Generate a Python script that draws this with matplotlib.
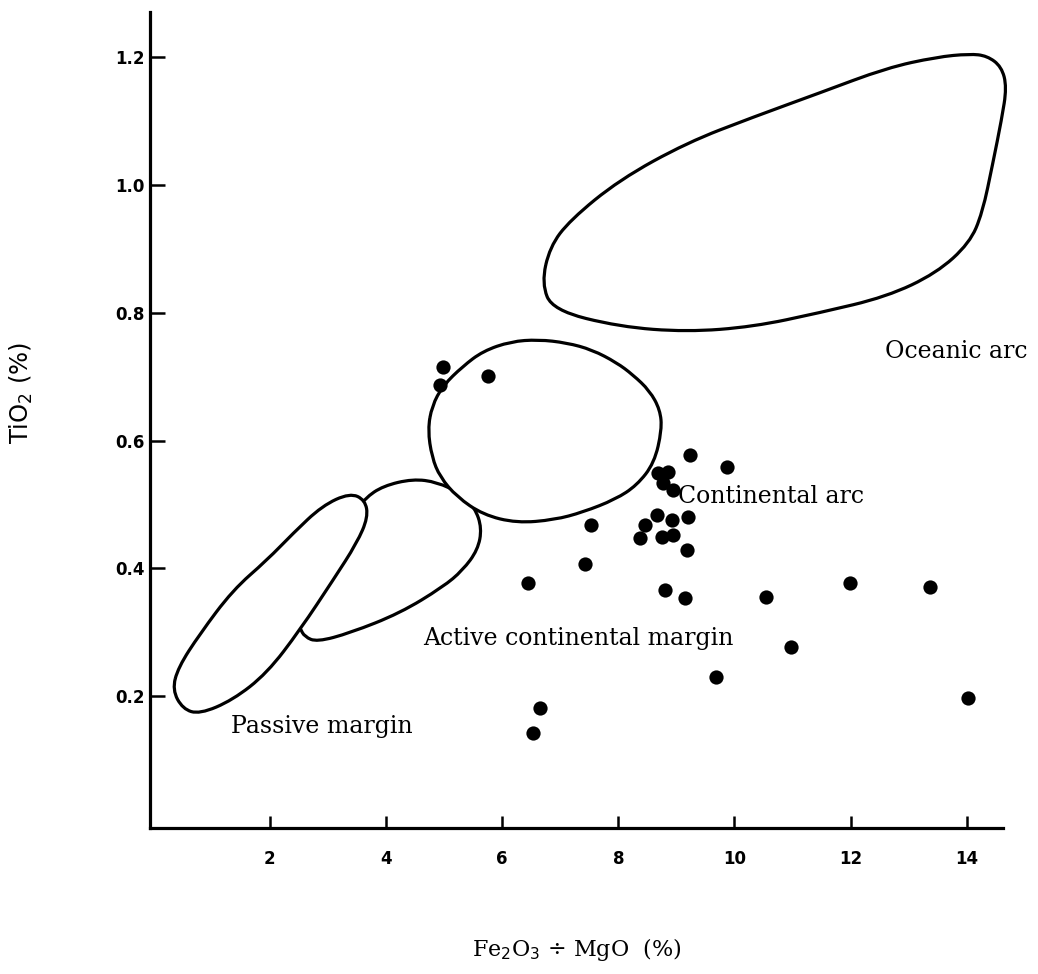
"""TiO2 vs Fe2O3 + MgO tectonic setting diagram with sample points."""
import matplotlib
matplotlib.use('Agg')
import matplotlib.pyplot as plt
import numpy as np
from matplotlib.path import Path
from matplotlib.patches import PathPatch

# samples: Fe2O3+MgO (%) and TiO2 (%)
sample_x = [4.98, 4.93, 5.75,
            9.23, 9.87, 8.68, 8.85, 8.77, 8.94, 9.20, 8.66, 8.92, 8.46,
            8.37, 8.75, 8.94, 9.18,
            7.53, 7.43, 6.44, 8.80, 9.15, 10.54, 11.99, 13.36, 10.97,
            9.68, 14.02, 6.65, 6.53]
sample_y = [0.715, 0.687, 0.701,
            0.577, 0.559, 0.549, 0.551, 0.534, 0.523, 0.480, 0.484, 0.476,
            0.468, 0.448, 0.449, 0.452, 0.429,
            0.468, 0.407, 0.377, 0.366, 0.354, 0.355, 0.377, 0.371, 0.277,
            0.230, 0.197, 0.182, 0.142]

# field boundaries (outline control points)
oceanic_x = [6.68, 6.87, 8.02, 9.18, 10.32, 11.47, 12.62, 13.48, 14.05, 14.27,
             14.45, 14.60, 14.69, 14.60, 14.35, 14.05, 13.48, 12.62, 11.47,
             10.32, 9.18, 8.02, 7.17, 6.82]
oceanic_y = [0.846, 0.804, 0.778, 0.770, 0.778, 0.800, 0.825, 0.862, 0.909,
             0.956, 1.034, 1.102, 1.153, 1.185, 1.202, 1.205, 1.200, 1.183,
             1.144, 1.106, 1.066, 1.008, 0.945, 0.903]

cont_arc_x = [4.72, 4.79, 4.93, 5.22, 5.67, 6.25, 6.90, 7.39, 7.95, 8.32,
              8.62, 8.75, 8.72, 8.54, 8.25, 7.97, 7.55, 7.11, 6.62, 6.15,
              5.67, 5.32, 4.98, 4.79]
cont_arc_y = [0.617, 0.574, 0.543, 0.512, 0.484, 0.471, 0.476, 0.488, 0.508,
              0.530, 0.565, 0.617, 0.648, 0.678, 0.703, 0.722, 0.742, 0.753,
              0.758, 0.755, 0.740, 0.716, 0.686, 0.654]

active_x = [3.45, 3.64, 3.95, 4.46, 4.88, 5.27, 5.53, 5.65, 5.58, 5.32, 4.98,
            4.24, 3.38, 2.81, 2.60, 2.52, 2.42]
active_y = [0.490, 0.510, 0.529, 0.540, 0.535, 0.518, 0.495, 0.463, 0.429,
            0.397, 0.371, 0.330, 0.299, 0.285, 0.293, 0.306, 0.325]

passive_x = [0.32, 0.50, 0.79, 1.36, 1.95, 2.52, 3.09, 3.50, 3.69, 3.64,
             3.38, 2.90, 2.40, 1.95, 1.36, 0.79, 0.42]
passive_y = [0.210, 0.180, 0.172, 0.194, 0.236, 0.304, 0.382, 0.440, 0.480,
             0.507, 0.518, 0.498, 0.455, 0.413, 0.366, 0.297, 0.245]

field_labels = ["Oceanic arc", "Continental arc", "Active continental margin",
                "Passive margin"]
label_x = [12.59, 9.03, 4.64, 1.33]
label_y = [0.739, 0.512, 0.291, 0.152]

x_ticks = [2, 4, 6, 8, 10, 12, 14]
y_ticks = [0.2, 0.4, 0.6, 0.8, 1.0, 1.2]


def smooth_path(xs, ys, closed=True):
    # quadratic B-spline through the outline control points
    pts = np.column_stack([xs, ys])
    n = len(pts)
    if closed:
        mids = (pts + np.roll(pts, -1, axis=0)) / 2
        verts = [mids[-1]]
        codes = [Path.MOVETO]
        for i in range(n):
            verts += [pts[i], mids[i]]
            codes += [Path.CURVE3, Path.CURVE3]
        return Path(verts, codes)
    verts = [pts[0]]
    codes = [Path.MOVETO]
    for i in range(1, n - 1):
        end = (pts[i] + pts[i + 1]) / 2 if i < n - 2 else pts[-1]
        verts += [pts[i], end]
        codes += [Path.CURVE3, Path.CURVE3]
    return Path(verts, codes)


fig = plt.figure(figsize=(10.38, 9.74), dpi=100)
ax = fig.add_axes([0.1445, 0.150, 0.8215, 0.838])

lw = 2.3
ax.add_patch(PathPatch(smooth_path(active_x, active_y, closed=False),
                       fill=False, lw=lw, ec='black', zorder=2))
ax.add_patch(PathPatch(smooth_path(passive_x, passive_y), fc='white',
                       ec='black', lw=lw, zorder=3))
ax.add_patch(PathPatch(smooth_path(cont_arc_x, cont_arc_y), fc='white',
                       ec='black', lw=lw, zorder=3))
ax.add_patch(PathPatch(smooth_path(oceanic_x, oceanic_y), fc='white',
                       ec='black', lw=lw, zorder=3, clip_on=False))

ax.scatter(sample_x, sample_y, s=105, c='black', lw=0, zorder=5)

for txt, tx, ty in zip(field_labels, label_x, label_y):
    ax.text(tx, ty, txt, family='DejaVu Serif', fontsize=17,
            ha='left', va='center', zorder=4)

ax.set_xlim(-0.065, 14.62)
ax.set_ylim(-0.006, 1.271)
ax.spines[['top', 'right']].set_visible(False)
ax.spines['left'].set_linewidth(2.3)
ax.spines['bottom'].set_linewidth(2.3)

ax.set_xticks(x_ticks)
ax.set_xticklabels([str(t) for t in x_ticks], fontweight='bold', fontsize=12)
ax.set_yticks(y_ticks)
ax.set_yticklabels([f"{t:.1f}" for t in y_ticks], fontweight='bold',
                   fontsize=12)
ax.tick_params(axis='x', direction='in', length=9, width=1.8, pad=16)
ax.tick_params(axis='y', direction='in', length=11, width=1.8, pad=4)

ax.set_xlabel("Fe$_2$O$_3$ \u00f7 MgO  (%)", family='DejaVu Serif',
              fontsize=16)
ax.xaxis.set_label_coords(0.5, -0.133)
ax.set_ylabel("TiO$_2$ (%)", fontsize=17.5)
ax.yaxis.set_label_coords(-0.135, 0.533)

fig.savefig("out.png", dpi=100)
